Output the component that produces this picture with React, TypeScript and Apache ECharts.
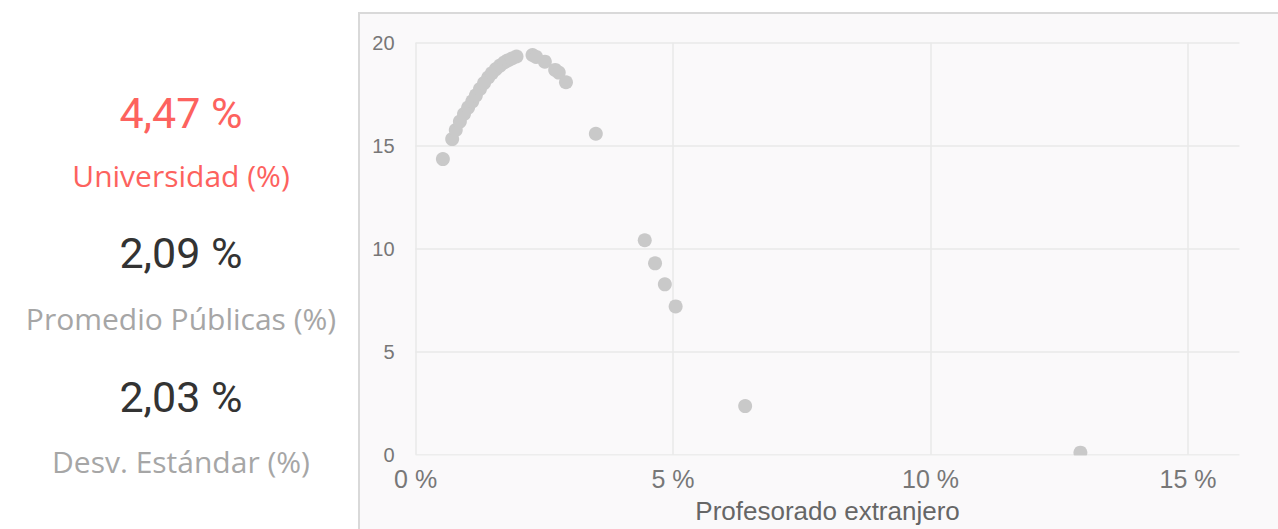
import React, { useEffect, useRef } from "react";
import * as echarts from "echarts";

// Scatter: x = Profesorado extranjero (%), y = value on vertical axis
const pointsX = [
  0.53, 0.71, 0.78, 0.86, 0.94, 1.02, 1.1, 1.17, 1.25, 1.33, 1.41, 1.48, 1.56,
  1.64, 1.72, 1.79, 1.87, 1.96, 2.27, 2.34, 2.51, 2.71, 2.78, 2.92, 3.5, 4.45,
  4.65, 4.84, 5.05, 6.4, 12.91,
];
const pointsY = [
  14.35, 15.32, 15.76, 16.17, 16.54, 16.85, 17.15, 17.44, 17.75, 18.04, 18.31,
  18.52, 18.72, 18.89, 19.04, 19.14, 19.23, 19.33, 19.4, 19.31, 19.08, 18.68,
  18.55, 18.08, 15.58, 10.41, 9.29, 8.27, 7.2, 2.36, 0.1,
];

const xTickInterval = 5;
const yTickInterval = 5;

const cardValues = ["4,47 %", "2,09 %", "2,03 %"];
const cardLabels = ["Universidad (%)", "Promedio Públicas (%)", "Desv. Estándar (%)"];

export default function App() {
  const ref = useRef<HTMLDivElement>(null);

  useEffect(() => {
    if (!ref.current) return;
    const chart = echarts.init(ref.current, undefined, { renderer: "svg" });
    const data = pointsX.map((x, i) => [x, pointsY[i]]);

    const valueColors = ["#fd625e", "#333333", "#333333"];
    const labelColors = ["#fd625e", "#a6a6a6", "#a6a6a6"];
    const valueY = [113, 253, 397];
    const labelY = [175, 318, 461];
    const texts: any[] = [];
    cardValues.forEach((v, i) => {
      texts.push({
        type: "text",
        x: 181,
        y: valueY[i],
        style: {
          text: v,
          fill: valueColors[i],
          font: "43px Roboto",
          textAlign: "center",
          textVerticalAlign: "middle",
        },
      });
      texts.push({
        type: "text",
        x: 181,
        y: labelY[i],
        style: {
          text: cardLabels[i],
          fill: labelColors[i],
          font: "30px 'Open Sans'",
          textAlign: "center",
          textVerticalAlign: "middle",
        },
      });
    });

    chart.setOption({
      animation: false,
      grid: { left: 415.6, top: 42.7, right: 38.5, bottom: 74.3, containLabel: false },
      xAxis: {
        type: "value",
        min: 0,
        max: 16,
        interval: xTickInterval,
        name: "Profesorado extranjero",
        nameLocation: "middle",
        nameGap: 43,
        nameTextStyle: { color: "#666666", fontSize: 26, fontFamily: "Liberation Sans" },
        axisLine: { show: false },
        axisTick: { show: false },
        axisLabel: {
          formatter: (v: number) => `${v} %`,
          color: "#777777",
          fontSize: 25,
          fontFamily: "Liberation Sans",
          margin: 12,
          showMaxLabel: false,
        },
        splitLine: { show: true, showMaxLine: false, lineStyle: { color: "#e9e9e9", width: 1.5 } },
      },
      yAxis: {
        type: "value",
        min: 0,
        max: 20,
        interval: yTickInterval,
        axisLine: { show: false },
        axisTick: { show: false },
        axisLabel: {
          color: "#777777",
          fontSize: 20,
          fontFamily: "Liberation Sans",
          margin: 21,
        },
        splitLine: { show: true, lineStyle: { color: "#e9e9e9", width: 1.5 } },
      },
      series: [
        {
          type: "scatter",
          data,
          symbol: "circle",
          symbolSize: 14,
          itemStyle: { color: "#c9c9c9", opacity: 1 },
          z: 2,
        },
      ],
      graphic: {
        elements: [
          {
            type: "rect",
            z: 10,
            silent: true,
            shape: { x: 400, y: 455.6, width: 878, height: 10 },
            style: { fill: "#faf9fa" },
          },
          ...texts,
        ],
      },
    });
    return () => chart.dispose();
  }, []);

  return (
    <div style={{ position: "fixed", left: 0, top: 0, width: 1278, height: 529, background: "#ffffff", overflow: "hidden" }}>
      <div
        style={{
          position: "absolute",
          left: 358,
          top: 12,
          width: 1000,
          height: 600,
          background: "#faf9fa",
          border: "2px solid #d9d9d9",
          boxSizing: "border-box",
        }}
      />
      <div ref={ref} style={{ position: "absolute", left: 0, top: 0, width: 1278, height: 529 }} />
    </div>
  );
}
